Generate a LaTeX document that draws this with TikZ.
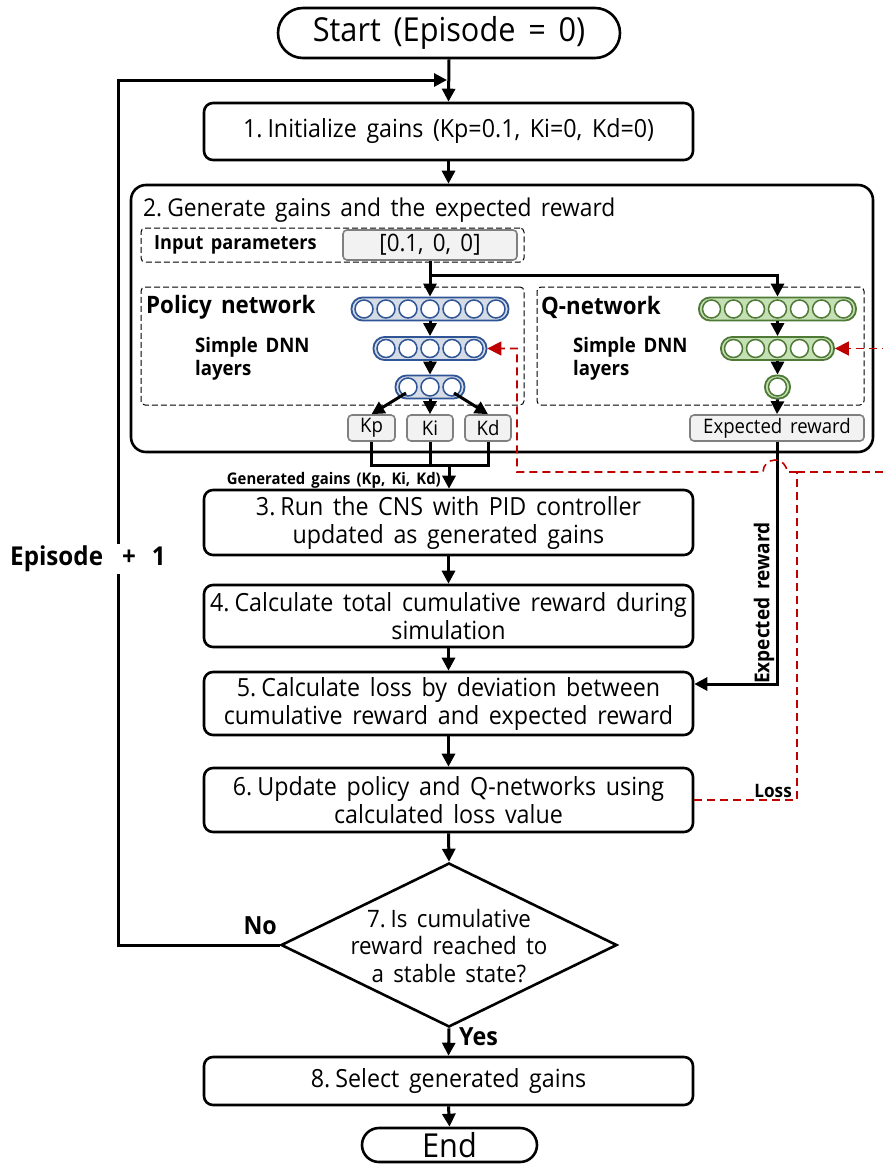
\documentclass[tikz,border=0pt]{standalone}
\usepackage{fontspec}
\setmainfont{Open Sans}[FakeStretch=0.93, WordSpace=1.6]
\usetikzlibrary{arrows.meta,shapes.geometric,calc}

\definecolor{polfill}{HTML}{D6DCE5}
\definecolor{poldraw}{HTML}{2F5597}
\definecolor{qfill}{HTML}{C5E0B4}
\definecolor{qdraw}{HTML}{4E7A36}
\definecolor{lossred}{HTML}{C00000}
\definecolor{chipfill}{HTML}{F2F2F2}
\definecolor{chipdraw}{HTML}{808080}

\newcommand\stepno[1]{#1.\hspace{5pt}}

\tikzset{
  wire/.style={line width=3pt},
  flow/.style={wire, -{Triangle[length=13pt,width=13pt]}},
  procbox/.style={draw, line width=2.6pt, rounded corners=9pt, fill=white,
    align=center, inner sep=0pt, minimum width=489pt,
    font=\fontsize{25}{28}\selectfont},
  terminal/.style={draw, line width=2.6pt, fill=white, inner sep=0pt},
  chip/.style={draw=chipdraw, fill=chipfill, line width=1.6pt,
    rounded corners=4pt, inner sep=0pt, minimum height=26pt,
    font=\fontsize{20}{22}\selectfont},
  frame/.style={draw, line width=1pt, rounded corners=4pt,
    dash pattern=on 6pt off 3pt, inner sep=0pt},
  losspath/.style={draw=lossred, line width=1.6pt, dash pattern=on 8pt off 5pt},
  lossflow/.style={losspath, -{Triangle[length=14pt,width=14pt]}},
  boldlabel/.style={font=\fontsize{#1}{23}\selectfont\bfseries, inner sep=0pt},
}

% one DNN layer: name, x, y, number of units, fill, border
\newcommand\nnlayer[6]{%
  \node[draw=#6, fill=#5, line width=1.8pt, rounded corners=11pt,
    minimum width=#4*22pt+3pt, minimum height=23pt, inner sep=0pt] (#1) at (#2,#3) {};
  \foreach \k in {1,...,#4}
    \draw[#6, fill=white, line width=1.5pt] ({#2+(\k-(#4+1)/2)*22},#3) circle (9pt);
}

\begin{document}
\begin{tikzpicture}[x=1pt,y=-1pt]
\path[use as bounding box, clip] (0,0) rectangle (883,1164);
\fill[white] (0,0) rectangle (883,1164);

% main flow
\node[terminal, rounded corners=25pt, minimum width=342pt, minimum height=50pt,
  font=\fontsize{33}{36}\selectfont] (start) at (449,33) {Start (Episode = 0)};
\node[procbox, minimum height=57pt] (box1) at (448.5,131.5)
  {\stepno{1}Initialize gains (Kp=0.1, Ki=0, Kd=0)};

% step 2 container
\node[draw, line width=2.6pt, rounded corners=15pt, minimum width=742pt,
  minimum height=267pt, inner sep=0pt] (gen) at (502,318.5) {};
\node[anchor=west, inner sep=0pt, font=\fontsize{24.5}{26}\selectfont] (gentitle)
  at (143,210) {\stepno{2}Generate gains and the expected reward};

\node[frame, minimum width=383pt, minimum height=34pt] (inframe) at (332.5,245) {};
\node[boldlabel=19.5, anchor=west] (inlabel) at (154,245) {Input parameters};
\node[chip, minimum width=174pt, minimum height=30pt,
  font=\fontsize{24}{26}\selectfont] (inp) at (430,245) {[0.1, 0, 0]};

\node[frame, minimum width=383pt, minimum height=118pt] (polframe) at (332.5,346) {};
\node[frame, minimum width=327pt, minimum height=118pt] (qframe) at (700.5,346) {};
\node[boldlabel=24, anchor=west] (pollabel) at (146,307) {Policy network};
\node[boldlabel=24, anchor=west] (qlabel) at (541,307) {Q-network};
\node[boldlabel=20, anchor=west, align=left] (poltext) at (195,358.5) {Simple DNN\\layers};
\node[boldlabel=20, anchor=west, align=left] (qtext) at (573,358.5) {Simple DNN\\layers};

\nnlayer{pol1}{430}{309}{7}{polfill}{poldraw}
\nnlayer{pol2}{430}{348.5}{5}{polfill}{poldraw}
\nnlayer{pol3}{430}{387}{3}{polfill}{poldraw}
\nnlayer{q1}{777.5}{309}{7}{qfill}{qdraw}
\nnlayer{q2}{777.5}{348.5}{5}{qfill}{qdraw}
\nnlayer{q3}{777.5}{387}{1}{qfill}{qdraw}

\node[chip, minimum width=47pt] (kp) at (371.5,428) {Kp};
\node[chip, minimum width=46pt] (ki) at (430,428) {Ki};
\node[chip, minimum width=46pt] (kd) at (488,428) {Kd};
\node[chip, minimum width=174pt] (er) at (777,428) {Expected reward};

% arrows inside step 2
\coordinate (split) at (430,275);
\draw[flow] (inp.south) -- (pol1.north);
\draw[flow] (split) -| (q1.north);
\draw[flow] (pol1.south) -- (pol2.north);
\draw[flow] (pol2.south) -- (pol3.north);
\draw[flow] (q1.south) -- (q2.north);
\draw[flow] (q2.south) -- (q3.north);
\draw[flow] (q3.south) -- (er.north);
\draw[flow] ($(pol3.center)+(-24,6)$) -- (kp.north);
\draw[flow] (pol3.south) -- (ki.north);
\draw[flow] ($(pol3.center)+(24,6)$) -- (kd.north);

% remaining steps
\node[procbox, minimum height=65pt] (box3) at (448.5,522.5)
  {\stepno{3}Run the CNS with PID controller\\updated as generated gains};
\node[procbox, minimum height=62pt] (box4) at (448.5,616)
  {\stepno{4}Calculate total cumulative reward during\\simulation};
\node[procbox, minimum height=63pt] (box5) at (448.5,703.5)
  {\stepno{5}Calculate loss by deviation between\\cumulative reward and expected reward};
\node[procbox, minimum height=64pt] (box6) at (448.5,800)
  {\stepno{6}Update policy and Q-networks using\\calculated loss value};
\node[diamond, draw, line width=2.6pt, aspect=2.05, minimum width=336pt,
  minimum height=164pt, inner sep=0pt] (dia) at (449,945) {};
\node[align=center, inner sep=0pt, font=\fontsize{24}{27.5}\selectfont] (diatext)
  at (449,946) {\stepno{7}Is cumulative\\reward reached to\\a stable state?};
\node[procbox, minimum height=48pt] (box8) at (448.5,1081) {\stepno{8}Select generated gains};
\node[terminal, rounded corners=17pt, minimum width=175pt, minimum height=34pt,
  font=\fontsize{33}{34}\selectfont] (finish) at (449.5,1145) {End};

% gains merge into step 3
\coordinate (merge) at (449,465);
\draw[wire] (kp.south) |- (merge) -| (kd.south);
\draw[wire] (ki.south) -- (ki.south |- merge);
\draw[flow] (merge) -- (merge |- box3.north);
\node[boldlabel=16, anchor=east] (gainslabel) at (441,480) {Generated gains (Kp, Ki, Kd)};

% main arrows
\draw[flow] (start.south) -- (box1.north);
\draw[flow] (box1.south) -- (box1.south |- gen.north);
\draw[flow] (box3.south) -- (box4.north);
\draw[flow] (box4.south) -- (box5.north);
\draw[flow] (box5.south) -- (box6.north);
\draw[flow] (box6.south) -- (dia.north);
\draw[flow] (dia.south) -- (box8.north);
\draw[flow] (box8.south) -- (finish.north);
\node[boldlabel=25, anchor=west] (yes) at (459,1037) {Yes};

% expected reward into step 5
\draw[flow] (er.south) |- ([yshift=19.5pt]box5.east);
\node[boldlabel=20.5, rotate=90] (erlabel) at (764,603) {Expected reward};

% loop back for the next episode
\coordinate (loopin) at (447,80);
\coordinate (loopx) at (118,80);
\draw[flow] (dia.west) -- (dia.west -| loopx) |- (loopin);
\node[boldlabel=25, anchor=east] (no) at (277,926) {No};
\node[boldlabel=26, fill=white, inner sep=2pt] (episode) at (88,559) {Episode\hspace{9pt} + \hspace{6pt}1};

% loss feedback to both networks
\coordinate (lj) at (797,472);
\draw[losspath] (box6.east) -| (lj);
\draw[lossflow] (lj) -- (892,472) |- (q2.east);
\draw[lossflow] (lj) -- (787,472) arc[start angle=0, end angle=-180, radius=12]
  -- (517,472) |- (pol2.east);
\node[boldlabel=18.5, anchor=south east] (losslabel) at (792,798) {Loss};
\end{tikzpicture}
\end{document}
